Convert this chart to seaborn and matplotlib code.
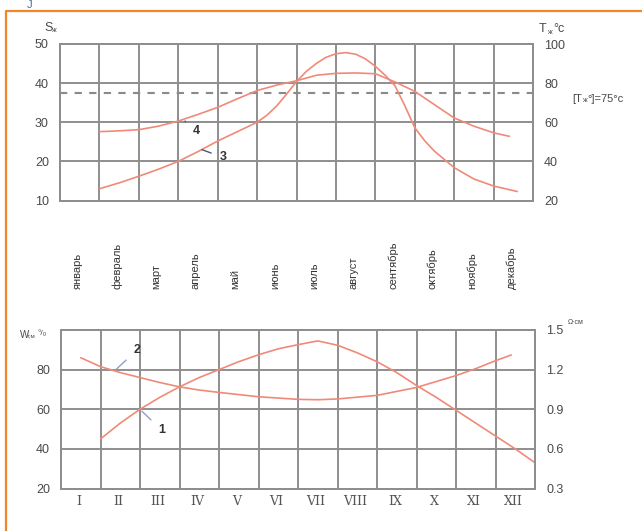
import matplotlib
matplotlib.use('Agg')
import numpy as np
import pandas as pd
import matplotlib.pyplot as plt
from matplotlib.lines import Line2D
import seaborn as sns

# month names (top panel) and roman numerals (bottom panel)
months_ru = ['январь', 'февраль', 'март', 'апрель', 'май', 'июнь',
             'июль', 'август', 'сентябрь', 'октябрь', 'ноябрь', 'декабрь']
months_roman = ['I', 'II', 'III', 'IV', 'V', 'VI', 'VII', 'VIII', 'IX', 'X', 'XI', 'XII']

# curve 4 (top panel, S scale)
c4_x = [1, 1.5, 2, 2.5, 3, 3.5, 4, 4.5, 5, 5.5, 6, 6.5, 7, 7.5, 8, 8.5, 9, 9.5, 10, 10.5, 11, 11.4]
c4_y = [27.6, 27.8, 28.1, 29.0, 30.3, 32.0, 33.8, 36.0, 38.1, 39.5, 40.6, 42.0, 42.5, 42.6, 42.4, 40.3,
        37.9, 34.5, 31.1, 29.0, 27.3, 26.4]
# curve 3 (top panel)
c3_x = [1, 1.5, 2, 2.5, 3, 3.5, 4, 4.5, 5, 5.25, 5.5, 5.75, 6, 6.25, 6.5, 6.75, 7, 7.25, 7.5, 7.75,
        8, 8.25, 8.5, 8.75, 9, 9.25, 9.5, 10, 10.5, 11, 11.6]
c3_y = [13.0, 14.5, 16.2, 18.0, 20.0, 22.5, 25.2, 27.6, 30.0, 31.8, 34.2, 37.2, 40.4, 43.0, 45.0,
        46.6, 47.5, 47.8, 47.4, 46.2, 44.3, 42.0, 39.3, 34.2, 28.6, 25.3, 22.6, 18.4, 15.5, 13.7, 12.3]
# curve 1 (bottom panel, W scale)
c1_x = [1, 1.5, 2, 2.5, 3, 3.5, 4, 4.5, 5, 5.5, 6, 6.5, 7, 7.5, 8, 8.5, 9, 9.5, 10, 10.5, 11, 11.5, 12]
c1_y = [45, 53, 60, 66, 71.3, 76, 80, 84, 87.5, 90.5, 92.6, 94.5, 92.3, 88.5, 84, 78.5, 72, 66, 59.5,
        53, 46.5, 40, 33]
# curve 2 (bottom panel)
c2_x = [0.5, 1, 1.5, 2, 2.5, 3, 3.5, 4, 5, 6, 6.5, 7, 8, 9, 10, 10.5, 11, 11.4]
c2_y = [86, 81.5, 78.5, 76, 73.5, 71.3, 69.7, 68.5, 66.3, 65, 64.8, 65.2, 67, 71, 77, 80.5, 84.5, 87.4]

t_limit = 75  # [T_ж] in deg C, right axis of top panel

# curve labels: name, point on curve, text position
top_labels = [('4', (3.17, 30.3), (3.47, 27.7)), ('3', (3.6, 23.0), (4.14, 21.0))]
bot_labels = [('2', (1.39, 80.0), (1.92, 89.9)), ('1', (2.05, 59.0), (2.55, 49.4))]

sns.set_style('white')
plt.rcParams['font.family'] = ['Liberation Sans', 'DejaVu Sans']

W, H = 642, 531
fig = plt.figure(figsize=(W / 100, H / 100), dpi=100)
fig.patch.set_facecolor('white')

grid_c = '#8e8e8e'
curve_c = '#f08a78'
lead_c = '#46557a'
txt_c = '#4a4a4a'


def px(x, y):
    return x / W, 1 - y / H


def style_axes(ax):
    for s in ax.spines.values():
        s.set_color(grid_c)
        s.set_linewidth(1.4)
    ax.tick_params(axis='both', length=0, labelsize=9, labelcolor=txt_c, pad=8)


ax1 = fig.add_axes([60 / W, 1 - 200.5 / H, 473 / W, 156.5 / H])
ax2 = fig.add_axes([61 / W, 1 - 488.5 / H, 474 / W, 158.5 / H])

# ---- top panel ----
ax1.set_xlim(0, 12)
ax1.set_ylim(10, 50)
ax1.set_xticks(range(1, 12))
ax1.set_yticks([10, 20, 30, 40, 50])
ax1.tick_params(axis='x', labelbottom=False)
ax1.grid(True, color=grid_c, lw=1.4)
style_axes(ax1)
ax1.axhline(t_limit / 2, color='#8a8a8a', lw=1.5, ls=(0, (3.5, 3.5)))

df4 = pd.DataFrame({'m': c4_x, 'v': c4_y})
df3 = pd.DataFrame({'m': c3_x, 'v': c3_y})
sns.lineplot(data=df4, x='m', y='v', ax=ax1, color=curve_c, lw=1.2, sort=False, estimator=None)
sns.lineplot(data=df3, x='m', y='v', ax=ax1, color=curve_c, lw=1.2, sort=False, estimator=None)
ax1.set_xlabel('')
ax1.set_ylabel('')

ax1r = ax1.twinx()
ax1r.set_ylim(20, 100)
ax1r.set_yticks([20, 40, 60, 80, 100])
style_axes(ax1r)
ax1r.grid(False)

for i, m in enumerate(months_ru):
    ax1.text(i + 0.45, -0.566, m, transform=ax1.get_xaxis_transform(), rotation=90,
             ha='center', va='bottom', fontsize=8, color='#333333')

for name, pt, tp in top_labels:
    ax1.annotate(name, xy=pt, xytext=tp, ha='center', va='center', fontsize=9,
                 color='#333333', fontweight='bold',
                 arrowprops=dict(arrowstyle='-', color=lead_c, lw=1.0, shrinkA=4, shrinkB=0))

# ---- bottom panel ----
ax2.set_xlim(0, 12)
ax2.set_ylim(20, 100)
ax2.set_xticks(range(1, 12))
ax2.set_yticks([20, 40, 60, 80])
ax2.tick_params(axis='x', labelbottom=False)
ax2.grid(True, color=grid_c, lw=1.4)
style_axes(ax2)

df1 = pd.DataFrame({'m': c1_x, 'v': c1_y})
df2 = pd.DataFrame({'m': c2_x, 'v': c2_y})
sns.lineplot(data=df1, x='m', y='v', ax=ax2, color=curve_c, lw=1.2, sort=False, estimator=None)
sns.lineplot(data=df2, x='m', y='v', ax=ax2, color=curve_c, lw=1.2, sort=False, estimator=None)
ax2.set_xlabel('')
ax2.set_ylabel('')

ax2r = ax2.twinx()
ax2r.set_ylim(0.3, 1.5)
ax2r.set_yticks([0.3, 0.6, 0.9, 1.2, 1.5])
ax2r.set_yticklabels(['0.3', '0.6', '0.9', '1.2', '1.5'])
style_axes(ax2r)
ax2r.grid(False)

for i, r in enumerate(months_roman):
    ax2.text(i + 0.45, -0.085, r, transform=ax2.get_xaxis_transform(), ha='center', va='center',
             fontsize=9, color='#555555', family='DejaVu Serif')

for name, pt, tp in bot_labels:
    ax2.annotate(name, xy=pt, xytext=tp, ha='center', va='center', fontsize=9,
                 color='#333333', fontweight='bold',
                 arrowprops=dict(arrowstyle='-', color='#8fa0c8', lw=1.0, shrinkA=4, shrinkB=0))

# ---- axis titles ----
fig.text(*px(44, 28), 'S', fontsize=9, color=txt_c, va='center')
fig.text(*px(51, 31), 'ж', fontsize=5, color=txt_c, va='center')
fig.text(*px(539, 29), 'T', fontsize=9, color=txt_c, va='center')
fig.text(*px(547, 32), 'ж', fontsize=5, color=txt_c, va='center')
fig.text(*px(553, 29), '°c', fontsize=9, color=txt_c, va='center')
fig.text(*px(572, 99), '[T', fontsize=8, color=txt_c, va='center')
fig.text(*px(582, 101), 'ж', fontsize=5, color=txt_c, va='center')
fig.text(*px(587, 99), '°]=75°c', fontsize=8, color=txt_c, va='center')
fig.text(*px(20, 335), 'W', fontsize=7, color=txt_c, va='center')
fig.text(*px(28, 337), 't,м', fontsize=4.5, color=txt_c, va='center')
fig.text(*px(38, 334), '°/₀', fontsize=6, color=txt_c, va='center')
fig.text(*px(568, 323), 'Ω·см', fontsize=5, color=txt_c, va='center')

# small mark at the very top and the orange frame
fig.text(*px(27, 5), 'J', fontsize=8, color='#4a6aa8', va='center')
fig.add_artist(Line2D([6 / W, 6 / W, 1], [0, 1 - 11 / H, 1 - 11 / H],
                      transform=fig.transFigure, color='#f0882a', lw=1.6))

fig.savefig('out.png', dpi=100)
